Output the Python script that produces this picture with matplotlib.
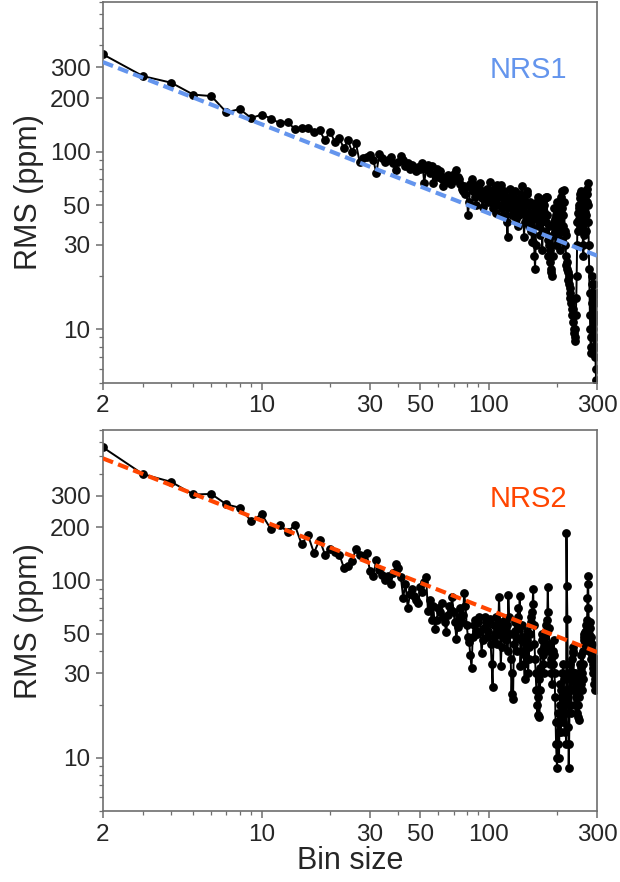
import numpy as np
import matplotlib
matplotlib.use("Agg")
import matplotlib.pyplot as plt
from matplotlib.ticker import FixedLocator, LogLocator, NullFormatter

plt.rcParams['font.family'] = ['Liberation Sans', 'DejaVu Sans']

bins = np.arange(2, 301)

# NRS1 rms values, bin size 2..300
rms_nrs1 = [
    354, 267, 245, 210, 206, 167, 174, 155,
    162, 154, 145, 148, 134, 136, 137, 129, 132, 116,
    130, 114, 119, 105, 116, 100, 112, 88, 92, 94,
    96, 90, 76, 97, 92, 88, 90, 94, 86, 79,
    88, 95, 90, 83, 86, 80, 84, 81, 78, 82,
    80, 86, 67, 80, 84, 76, 83, 67, 75, 80,
    72, 78, 70, 64, 72, 68, 74, 70, 66, 73,
    75, 69, 79, 72, 70, 66, 62, 60, 64, 58,
    63, 44, 52, 66, 70, 60, 62, 56, 50, 65,
    58, 62, 67, 55, 49, 60, 57, 54, 62, 52,
    58, 68, 60, 55, 48, 62, 52, 58, 45, 65,
    56, 50, 62, 65, 48, 58, 44, 60, 52, 54,
    40, 33, 48, 56, 62, 50, 44, 58, 52, 46,
    60, 54, 42, 50, 46, 38, 44, 52, 58, 48,
    64, 56, 48, 33, 40, 52, 44, 58, 60, 50,
    45, 38, 52, 44, 36, 31, 42, 31, 48, 26,
    22, 30, 44, 52, 56, 48, 38, 45, 34, 40,
    52, 46, 28, 36, 42, 50, 46, 55, 40, 56,
    56, 44, 32, 26, 38, 30, 24, 28, 22, 21,
    20, 26, 34, 40, 48, 42, 36, 30, 44, 52,
    40, 34, 46, 50, 38, 28, 32, 42, 36, 56,
    48, 60, 44, 38, 61, 52, 36, 30, 34, 23,
    26, 24, 22, 21, 19, 18, 20, 17, 16, 15,
    14, 15, 13, 12, 13, 11, 12, 10, 9.5, 9,
    8.6, 10, 12, 15, 20, 30, 40, 36, 45, 50,
    48, 42, 58, 55, 46, 38, 60, 52, 44, 36,
    30, 26, 34, 42, 50, 56, 46, 40, 36, 44,
    52, 58, 62, 67, 50, 40, 30, 22, 16, 12,
    10, 8, 7.4, 9, 14, 20, 18, 15, 12, 10,
    8, 11, 18, 14, 9, 7, 6, 5.2, 8, 12, 16,
]

# NRS2 rms values, bin size 2..300
rms_nrs2 = [
    562, 397, 359, 305, 307, 268, 257, 216,
    236, 194, 205, 188, 205, 160, 180, 143, 170, 140,
    151, 145, 140, 118, 120, 129, 150, 140, 137, 143,
    113, 106, 131, 115, 108, 101, 106, 95, 110, 123,
    118, 105, 80, 96, 70, 84, 89, 82, 78, 75,
    92, 86, 98, 105, 67, 78, 60, 72, 53, 60,
    70, 66, 75, 62, 58, 51, 64, 72, 68, 81,
    66, 58, 47, 55, 62, 70, 58, 64, 85, 72,
    56, 48, 45, 38, 32, 48, 56, 60, 52, 50,
    58, 62, 51, 39, 46, 54, 62, 58, 48, 52,
    60, 61, 44, 34, 25, 48, 56, 50, 62, 44,
    50, 81, 58, 33, 42, 55, 48, 52, 60, 46,
    56, 40, 83, 62, 50, 36, 23, 30, 21.5, 44,
    52, 58, 48, 40, 62, 70, 54, 82, 33, 46,
    56, 48, 40, 34, 28, 38, 44, 52, 46, 30,
    36, 42, 50, 58, 62, 66, 74, 89, 56, 44,
    36, 30, 24, 20, 17.5, 22, 28, 17, 24, 32,
    40, 46, 50, 38, 34, 30, 42, 48, 56, 44,
    52, 60, 92, 66, 54, 40, 34, 44, 36, 30,
    26, 34, 40, 46, 38, 30, 22, 16, 12, 10,
    8.8, 12, 18, 14, 10, 16, 20, 26, 14, 24,
    30, 22, 16, 34, 28, 20, 14, 24, 18, 12,
    186, 93, 61, 30, 15, 8.8, 12, 20, 28, 34,
    24, 18, 30, 36, 40, 42, 39, 30, 24, 20,
    26, 30, 22, 20, 18, 24, 28, 20, 17, 16.4,
    22, 28, 34, 30, 26, 32, 38, 30, 24, 28,
    34, 40, 46, 48, 50, 51, 44, 52, 56, 50,
    46, 60, 80, 95, 106, 70, 50, 40, 46, 54,
    58, 48, 42, 36, 40, 44, 38, 34, 30, 32,
    36, 30, 26, 24.2, 28, 32, 36, 30, 27, 25, 28,
]

# expected white-noise lines (end points)
model_x = [2, 300]
model_nrs1 = [320, 26]
model_nrs2 = [487, 39.5]

labels = ['NRS1', 'NRS2']
colors = ['cornflowerblue', 'orangered']

fig = plt.figure(figsize=(6.2, 8.82), dpi=100)
ax1 = fig.add_axes([0.166, 0.566, 0.797, 0.432])
ax2 = fig.add_axes([0.166, 0.080, 0.797, 0.432])

spine_col = '#6e6e6e'
text_col = '#262626'

for ax, rms, model, lab, col in zip([ax1, ax2], [rms_nrs1, rms_nrs2],
                                    [model_nrs1, model_nrs2], labels, colors):
    ax.plot(bins, rms, '-o', color='black', lw=1.4, ms=5.3, zorder=2)
    ax.plot(model_x, model, color=col, lw=3.0, dashes=(2.6, 1.3), zorder=3)
    ax.set_xscale('log')
    ax.set_yscale('log')
    ax.set_xlim(2, 300)
    ax.set_ylim(5, 700)
    ax.xaxis.set_major_locator(FixedLocator([2, 10, 30, 50, 100, 300]))
    ax.xaxis.set_ticklabels(['2', '10', '30', '50', '100', '300'])
    ax.yaxis.set_major_locator(FixedLocator([10, 30, 50, 100, 200, 300]))
    ax.yaxis.set_ticklabels(['10', '30', '50', '100', '200', '300'])
    ax.xaxis.set_minor_locator(LogLocator(base=10, subs=np.arange(2, 10)))
    ax.yaxis.set_minor_locator(LogLocator(base=10, subs=np.arange(2, 10)))
    ax.xaxis.set_minor_formatter(NullFormatter())
    ax.yaxis.set_minor_formatter(NullFormatter())
    ax.tick_params(which='major', direction='out', length=5, width=1.1,
                   color=spine_col, labelsize=17.5, labelcolor=text_col, pad=4)
    ax.tick_params(which='minor', direction='out', length=3, width=0.9,
                   color=spine_col)
    for s in ax.spines.values():
        s.set_color(spine_col)
        s.set_linewidth(1.2)
    ax.set_ylabel('RMS (ppm)', fontsize=22, color=text_col, labelpad=4)
    ax.text(0.94, 0.82, lab, color=col, fontsize=21, ha='right', va='center',
            transform=ax.transAxes)

ax2.set_xlabel('Bin size', fontsize=22, color=text_col, labelpad=0)

fig.savefig('out.png', dpi=100)
